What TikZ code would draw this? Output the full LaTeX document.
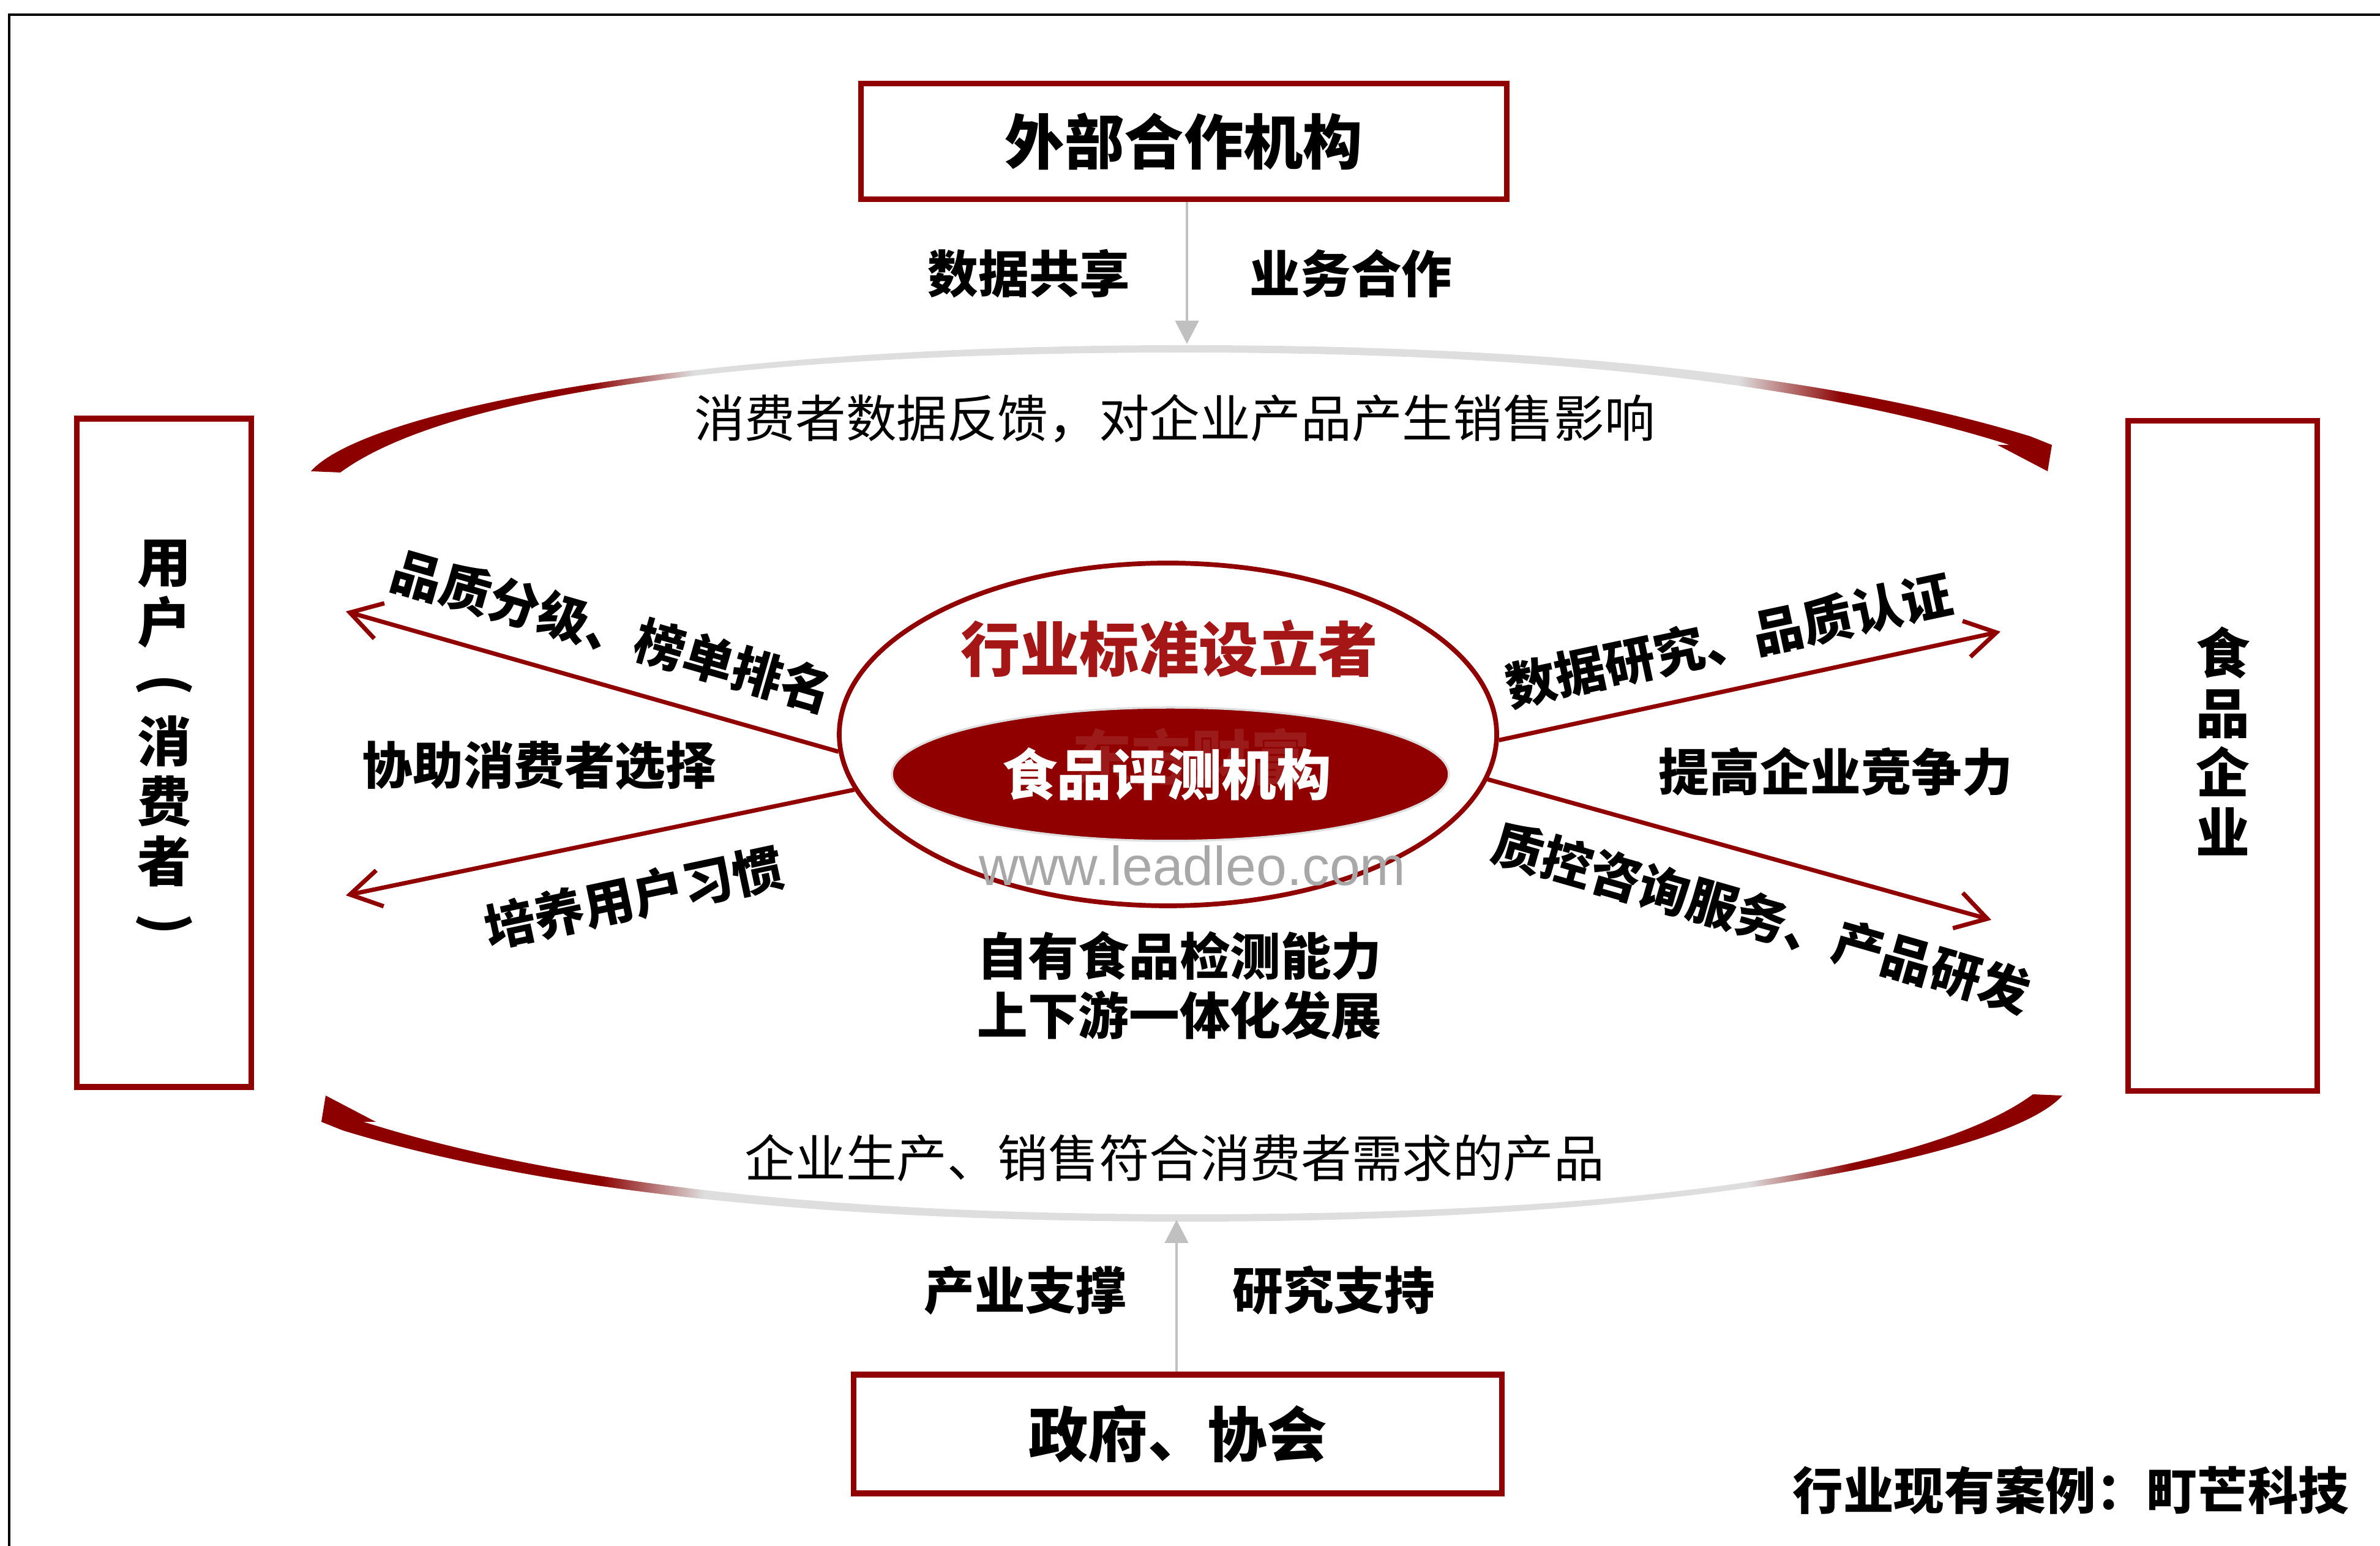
\documentclass[tikz,border=0pt]{standalone}
\usepackage{fontspec}
\setmainfont{Liberation Sans}
\newfontfamily\cjk{Noto Sans CJK SC}
\usetikzlibrary{arrows.meta,shapes.geometric}

\definecolor{boxred}{RGB}{144,0,0}
\definecolor{titlered}{RGB}{165,22,22}
\definecolor{arcred}{RGB}{140,0,0}
\definecolor{arcgray}{RGB}{222,222,222}
\definecolor{linkgray}{RGB}{192,192,192}
\definecolor{markgray}{RGB}{168,168,168}

\pgfdeclarehorizontalshading{feedshade}{100bp}{color(0bp)=(arcred); color(33bp)=(arcred);
  color(36bp)=(arcgray); color(66bp)=(arcgray); color(69bp)=(arcred); color(100bp)=(arcred)}

% tapered feedback arc, thick end left, head right
\newcommand{\feedarc}{(5.08,17.56) .. controls (5.9,18.5) and (11,19.62) .. (19.35,19.62)
  .. controls (25.5,19.62) and (30.0,19.1) .. (33.17,18.13)
  -- (33.52,17.99) -- (33.45,17.56) -- (32.63,17.99) -- (32.83,17.99)
  .. controls (29.8,18.95) and (25.5,19.50) .. (19.35,19.50)
  .. controls (11,19.50) and (7.0,18.6) .. (5.56,17.54) -- cycle}
% vertical bracket
\newcommand{\vbr}[1]{\rotatebox[origin=c]{-90}{#1}}

\begin{document}
\begin{tikzpicture}[
    redbox/.style={draw=boxred, line width=2.6pt, rectangle, inner sep=0pt},
    big/.style={font=\cjk\bfseries\fontsize{27.7}{33}\selectfont, inner sep=0pt},
    side/.style={font=\cjk\bfseries\fontsize{25}{27.8}\selectfont, align=center, inner sep=0pt},
    tag/.style={font=\cjk\bfseries\fontsize{23.5}{27.5}\selectfont, inner sep=0pt},
    note/.style={font=\cjk\fontsize{23.5}{27.5}\selectfont, inner sep=0pt},
    flow/.style={draw=boxred, line width=2pt, -{Straight Barb[length=5mm,width=6mm]}},
    push/.style={draw=linkgray, line width=1.2pt, -{Triangle[length=3.8mm,width=3.8mm]}}
  ]
    \useasboundingbox (0,0) rectangle (38.88,25.26);
    %\draw[very thin,gray!40] (0,0) grid (38,25);
    \draw[line width=1.4pt] (0.15,0) -- (0.15,25.02) -- (38.88,25.02);

    % outer parties
    \node[redbox, minimum width=10.55cm, minimum height=1.89cm] (partner) at (19.34,22.95) {};
    \node[big] (partnertxt) at (partner) {外部合作机构};
    \node[redbox, minimum width=10.59cm, minimum height=1.94cm] (gov) at (19.24,1.83) {};
    \node[big] (govtxt) at (gov) {政府、协会};
    \node[redbox, minimum width=2.85cm, minimum height=10.92cm] (user) at (2.68,12.96) {};
    \node[side] (usertxt) at ([yshift=2mm]user.center) {用\\户\\\vbr{(}\\消\\费\\者\\\vbr{)}};
    \node[redbox, minimum width=3.09cm, minimum height=10.95cm] (firm) at (36.31,12.91) {};
    \node[side] (firmtxt) at ([yshift=2.4mm]firm.center) {食\\品\\企\\业};

    % feedback arcs
    \shade[shading=feedshade] \feedarc;
    \shade[shading=feedshade, rotate around={180:(19.385,12.46)}] \feedarc;
    \node[note] (upcap) at (19.19,18.42) {消费者数据反馈，对企业产品产生销售影响};
    \node[note] (dncap) at (19.19,6.34) {企业生产、销售符合消费者需求的产品};

    \coordinate (toptip) at (19.39,19.64);
    \coordinate (bottip) at (19.22,5.33);
    \draw[push] (toptip |- partner.south) -- (toptip);
    \draw[push] (bottip |- gov.north) -- (bottip);
    \node[tag] (share) at (16.81,20.79) {数据共享};
    \node[tag] (coop) at (22.07,20.79) {业务合作};
    \node[tag] (indus) at (16.75,4.18) {产业支撑};
    \node[tag] (study) at (21.79,4.18) {研究支持};

    % evaluation body
    \node[ellipse, draw=boxred, line width=2.2pt, minimum width=10.74cm, minimum height=5.6cm] (ring) at (19.08,13.26) {};
    \node[ellipse, fill=boxred, draw=gray!25, line width=1pt, minimum width=9.1cm, minimum height=2.18cm] (core) at (19.12,12.61) {};
    \node[big, text=white, text opacity=0.1] (wmark) at (19.46,12.89) {东方财富};
    \node[font=\cjk\bfseries\fontsize{25.5}{30}\selectfont, text=white, inner sep=0pt] (coretxt) at (19.06,12.61) {食品评测机构};
    \node[big, text=titlered] (ringtxt) at (19.10,14.66) {行业标准设立者};
    \node[font=\fontsize{25.5}{30}\selectfont, text=markgray, inner sep=0pt] (site) at (19.48,11.12) {www.leadleo.com};
    \node[tag, align=center] (own) at (19.27,9.155) {自有食品检测能力\\上下游一体化发展};

    % services
    \coordinate (ultip) at (5.65,15.27);
    \coordinate (lltip) at (5.65,10.63);
    \coordinate (urtip) at (32.68,14.94);
    \coordinate (lrtip) at (32.53,10.23);
    \draw[flow] (ring.183) -- (ultip);
    \draw[flow] (ring.190) -- (lltip);
    \draw[flow] (ring.-1) -- (urtip);
    \draw[flow] (ring.-8) -- (lrtip);

    \node[tag, rotate=-16] (rank) at (10.0,14.95) {品质分级、榜单排名};
    \node[tag] (help) at (8.81,12.75) {协助消费者选择};
    \node[tag, rotate=12] (habit) at (10.35,10.6) {培养用户习惯};
    \node[tag, rotate=12] (cert) at (28.24,14.8) {数据研究、品质认证};
    \node[tag] (compete) at (29.99,12.65) {提高企业竞争力};
    \node[tag, rotate=-16] (qc) at (28.78,10.26) {质控咨询服务、产品研发};

    \node[tag] (case) at (33.83,0.91) {行业现有案例：町芒科技};
\end{tikzpicture}
\end{document}
